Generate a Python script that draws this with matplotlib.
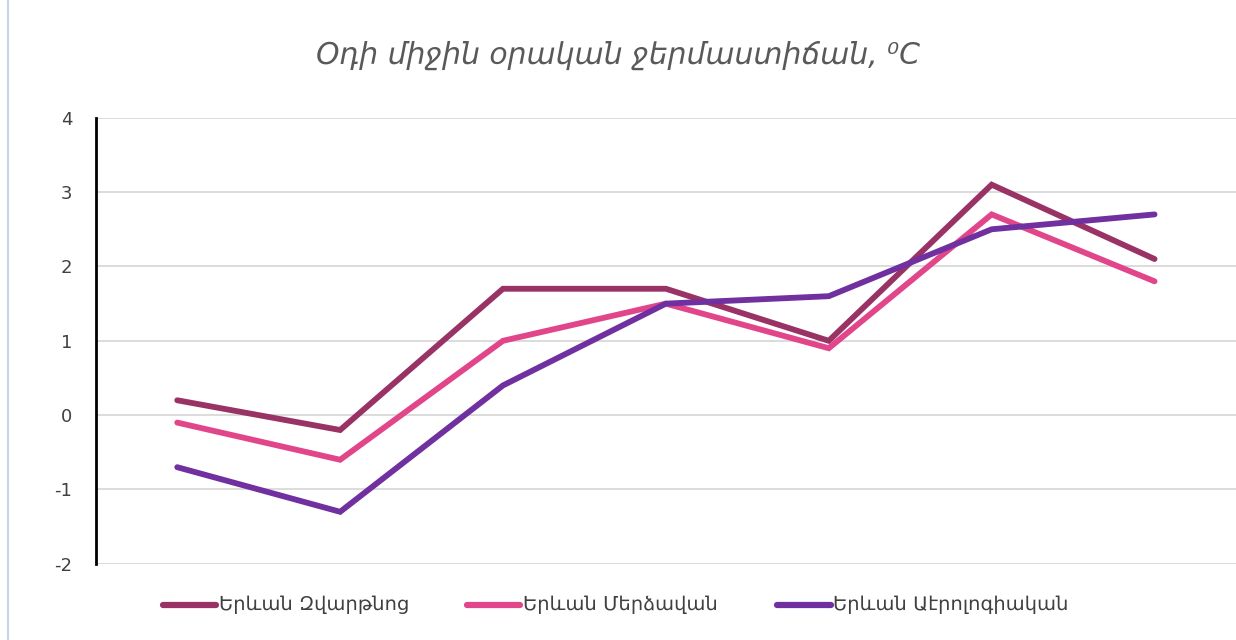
import numpy as np
import matplotlib.pyplot as plt
from matplotlib.lines import Line2D

plt.rcParams['font.family'] = ['DejaVu Sans']
plt.rcParams['axes.unicode_minus'] = False

# data
points = list(range(7))
zvartnots = [0.2, -0.2, 1.7, 1.7, 1.0, 3.1, 2.1]
merdzavan = [-0.1, -0.6, 1.0, 1.5, 0.9, 2.7, 1.8]
aerolog = [-0.7, -1.3, 0.4, 1.5, 1.6, 2.5, 2.7]
names = ["Երևան Զվարթնոց", "Երևան Մերձավան", "Երևան Աէրոլոգիական"]
colors = ["#993366", "#E2468A", "#7030A0"]
title = "Օդի միջին օրական ջերմաստիճան, ⁰C"

fig = plt.figure(figsize=(12.36, 6.4), dpi=100)
ax = fig.add_axes([0.0775, 0.119, 0.9225, 0.697])

for ys, c, n in zip([zvartnots, merdzavan, aerolog], colors, names):
    ax.plot(points, ys, color=c, lw=4.2, solid_capstyle='round', solid_joinstyle='miter', label=n)

ax.set_xlim(-0.5, 6.5)
ax.set_ylim(-2, 4)
ax.set_yticks(range(-2, 5))
ax.set_xticks([])
ax.grid(axis='y', color='#D9D9D9', lw=1.3)
ax.set_axisbelow(True)
for s in ['top', 'right', 'bottom']:
    ax.spines[s].set_visible(False)
ax.spines['left'].set_color('black')
ax.spines['left'].set_linewidth(2)
ax.tick_params(axis='y', length=0, pad=17, labelsize=13, labelcolor='#404040')

fig.text(0.5, 0.913, title, ha='center', va='center', fontsize=21.5, style='italic', color='#595959')

# legend along the bottom
legx = [0.132, 0.378, 0.629]
for x, c, n in zip(legx, colors, names):
    fig.add_artist(Line2D([x, x + 0.043], [0.055, 0.055], color=c, lw=4.5, solid_capstyle='round'))
    fig.text(x + 0.045, 0.055, n, va='center', ha='left', fontsize=14, color='#404040')

# faint frame line on left
fig.add_artist(Line2D([0.0065, 0.0065], [0, 1], color='#C5D5EA', lw=1.5))

fig.savefig('out.png', dpi=100)
